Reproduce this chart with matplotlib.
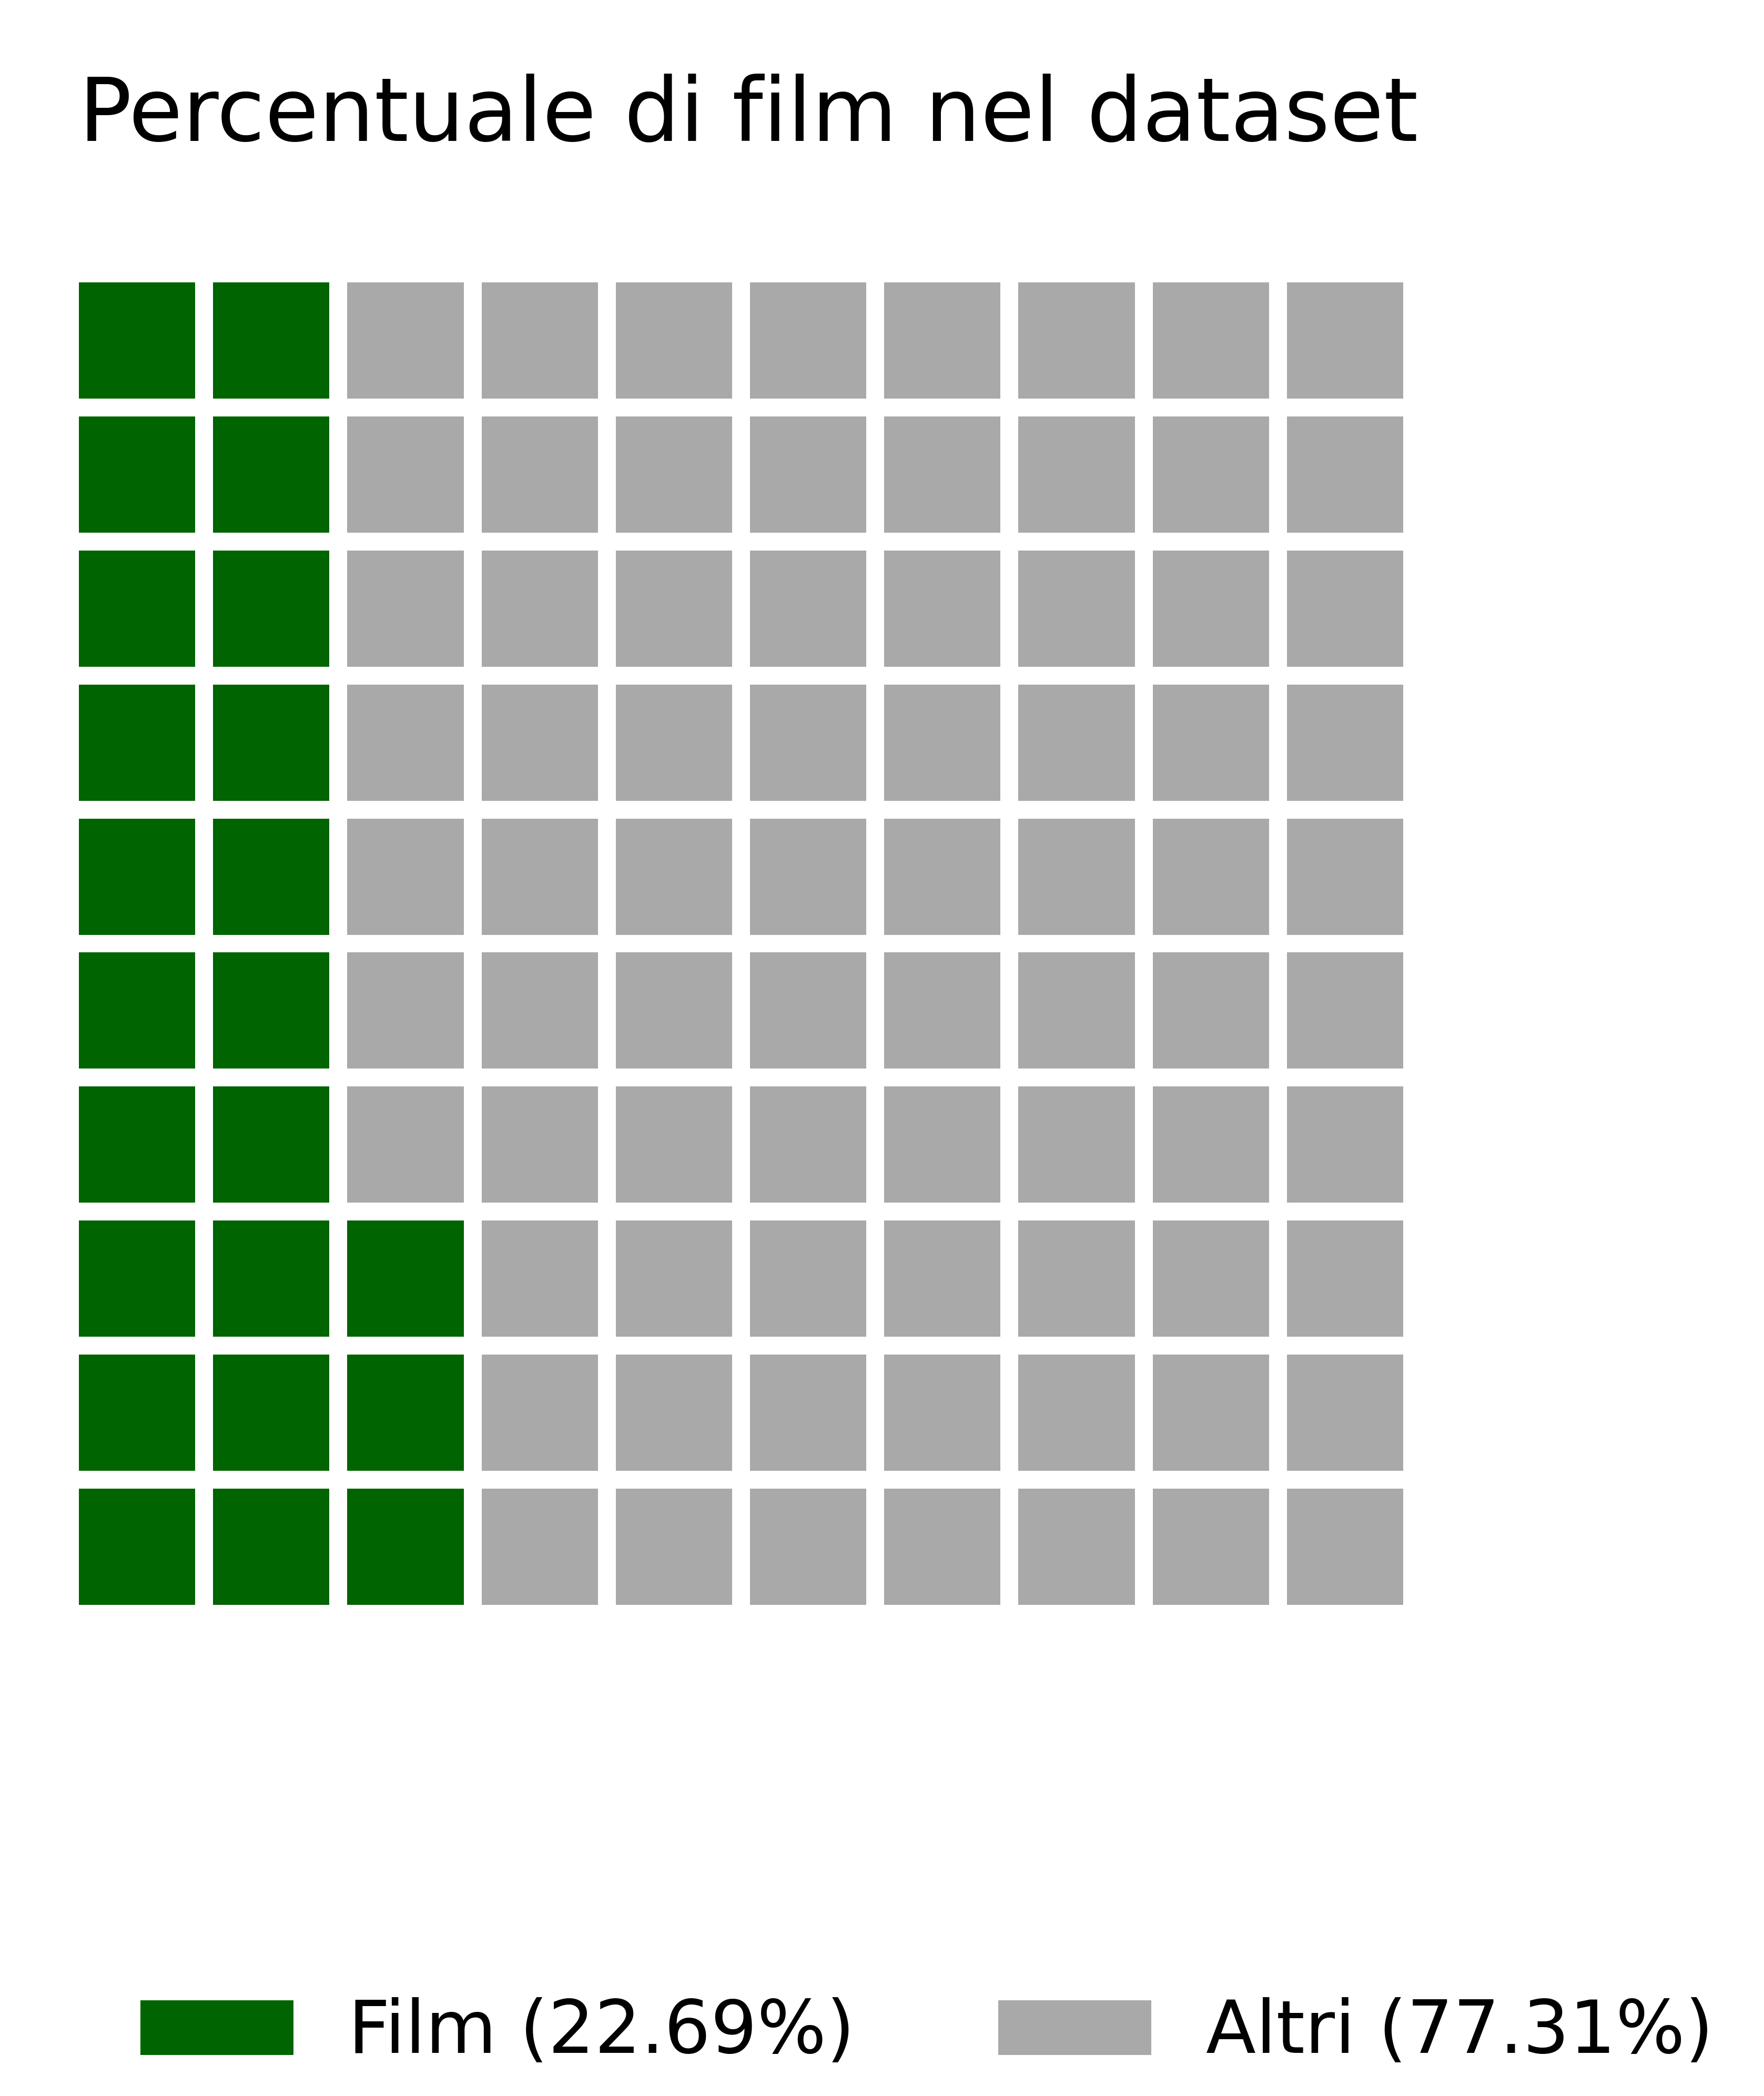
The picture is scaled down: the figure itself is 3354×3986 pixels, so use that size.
import matplotlib
matplotlib.use("Agg")
import matplotlib.pyplot as plt
from matplotlib.patches import Rectangle, Patch

# data
labels = ["Film", "Altri"]
percentages = [22.69, 77.31]
colors = ["#006400", "#A9A9A9"]
n_rows = 10
n_cols = 10

# number of blocks per category
blocks = [int(round(p * n_rows * n_cols / 100)) for p in percentages]

fig = plt.figure(figsize=(3354 / 300, 3986 / 300), dpi=300)
W, H = 3354, 3986
ax = fig.add_axes([150 / W, 1 - 3052 / H, (2668 - 150) / W, (3052 - 537) / H])

size = 0.867
# fill column by column, from bottom left going up
cell_colors = []
for b, c in zip(blocks, colors):
    cell_colors += [c] * b
for i, c in enumerate(cell_colors):
    col = i // n_rows
    row = i % n_rows
    ax.add_patch(Rectangle((col, row), size, size, facecolor=c, edgecolor="none"))

ax.set_xlim(0, n_cols - 1 + size)
ax.set_ylim(0, n_rows - 1 + size)
ax.axis("off")

fig.text(150 / W, 1 - 267 / H, "Percentuale di film nel dataset",
         fontsize=40, va="baseline", ha="left")

handles = [Patch(facecolor=c, label=f"{l} ({p:.2f}%)") for l, p, c in zip(labels, percentages, colors)]
fig.legend(handles=handles, loc="center left", bbox_to_anchor=(267 / W, 1 - 3866 / H),
           ncol=2, frameon=False, fontsize=33.3, handlelength=2.1, handleheight=0.77,
           handletextpad=0.75, columnspacing=1.96, borderpad=0, borderaxespad=0)

fig.savefig("out.png", dpi=300)
